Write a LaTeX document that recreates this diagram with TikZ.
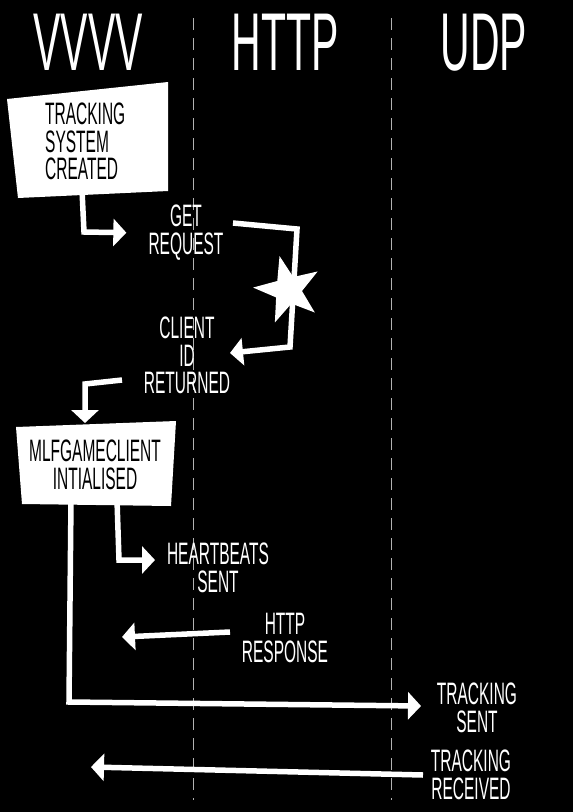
\documentclass[tikz,border=0pt]{standalone}
\usepackage{fontspec}
\setmainfont{Liberation Sans}[FakeStretch=0.5]
\usetikzlibrary{arrows.meta,shapes.geometric,positioning}

\begin{document}
\begin{tikzpicture}[x=1pt, y=-1pt,
                    lane/.style={gray!60, line width=1pt, dash pattern=on 12pt off 8pt},
                    head/.style={font=\fontsize{82}{82}\selectfont, text=white, inner sep=0pt},
                    lbl/.style={font=\fontsize{31}{27.5}\selectfont, text=white, align=center, inner sep=0pt},
                    boxtext/.style={lbl, text=black},
                    card/.style={fill=white},
                    link/.style={white, line width=5.5pt},
                    flow/.style={link, -{Triangle[length=13pt,width=27pt]}}]
  \fill[black] (0,0) rectangle (573,812);
  \useasboundingbox (0,0) rectangle (573,812);
  \draw[lane] (193,18) -- (193,800);
  \draw[lane] (391,18) -- (391,800);
  \node[head, anchor=base] (www) at (88,70) {VVVV};
  \node[head, anchor=base] (http) at (285,70) {HTTP};
  \node[head, anchor=base] (udp) at (484,70) {UDP};
  \fill[card] (7,99) -- (168,82) -- (168,191) -- (18,198) -- cycle;
  \node[boxtext, align=left, anchor=north west] (tsc) at (45,103) {TRACKING\\SYSTEM\\CREATED};
  \fill[card] (16,427) -- (176,421) -- (171,506) -- (22,504) -- cycle;
  \node[boxtext, anchor=north] (mlf) at (95,440) {MLFGAMECLIENT\\INTIALISED};
  \node[lbl, anchor=north] (getreq) at (186,205) {GET\\REQUEST};
  \node[lbl, anchor=north] (cid) at (187,317) {CLIENT\\ID\\RETURNED};
  \node[lbl, anchor=north] (hb) at (218,543) {HEARTBEATS\\SENT};
  \node[lbl, anchor=north] (resp) at (285,613) {HTTP\\RESPONSE};
  \node[lbl, anchor=north] (tsent) at (477,683) {TRACKING\\SENT};
  \node[lbl, anchor=north] (trecv) at (471,750) {TRACKING\\RECEIVED};
  \coordinate (tscout) at (82,190);
  \coordinate[left=22pt of getreq] (getin);
  \coordinate (getout) at (233,223);
  \coordinate (cidin) at (230,353);
  \coordinate (cidout) at (122,380);
  \coordinate (mlfin) at (85,423);
  \coordinate (hbfrom) at (117,500);
  \coordinate (hbin) at (155,560);
  \coordinate (respout) at (230,632);
  \coordinate (respin) at (122,637);
  \coordinate (trackfrom) at (71,500);
  \coordinate (tsentin) at (421,706);
  \coordinate (trecvout) at (423,775);
  \coordinate (trecvin) at (91,767);
  \draw[flow] (tscout) -- (84,232) -- (getin);
  \draw[flow] (getout) -- (297,229) -- (290,347) -- (cidin);
  \node[star, star points=5, star point ratio=2.5, fill=white, minimum size=70pt, inner sep=0pt, rotate=14] (burst) at (288,290) {};
  \draw[flow] (cidout) -- (85,384) -- (mlfin);
  \draw[flow] (hbfrom) -- (119,560) -- (hbin);
  \draw[flow] (respout) -- (respin);
  \draw[flow] (trackfrom) -- (69,702) -- (tsentin);
  \draw[flow] (trecvout) -- (trecvin);
\end{tikzpicture}
\end{document}
